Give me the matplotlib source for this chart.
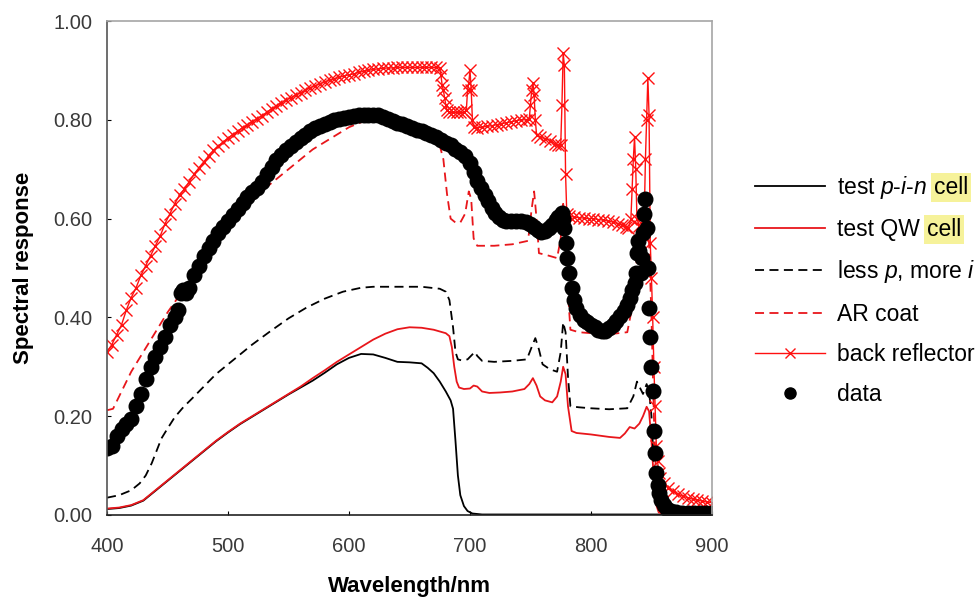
import matplotlib
matplotlib.use("Agg")
import matplotlib.pyplot as plt
from matplotlib.transforms import IdentityTransform
import numpy as np

plt.rcParams["font.family"] = ["Liberation Sans", "DejaVu Sans"]
plt.rcParams["mathtext.fontset"] = "custom"
plt.rcParams["mathtext.rm"] = "Liberation Sans"
plt.rcParams["mathtext.it"] = "Liberation Sans:italic"

# test p-i-n cell
wl_pin = [400, 410, 420, 430, 440, 450, 460, 470, 480, 490, 500, 510, 520, 530, 540,
          550, 560, 570, 580, 590, 600, 610, 620, 630, 640, 650, 660, 665, 670, 675,
          680, 684, 686, 688, 690, 692, 695, 698, 702, 710, 800, 900]
pin = [0.012, 0.014, 0.019, 0.029, 0.049, 0.069, 0.089, 0.109, 0.129, 0.149, 0.167,
       0.184, 0.199, 0.214, 0.229, 0.244, 0.258, 0.272, 0.288, 0.305, 0.318, 0.326,
       0.325, 0.318, 0.310, 0.309, 0.307, 0.298, 0.287, 0.270, 0.250, 0.232, 0.215,
       0.150, 0.080, 0.040, 0.018, 0.008, 0.003, 0.001, 0.001, 0.001]

# test QW cell
wl_qw = [400, 410, 420, 430, 440, 450, 460, 470, 480, 490, 500, 510, 520, 530, 540,
         550, 560, 570, 580, 590, 600, 610, 620, 630, 640, 650, 660, 670, 680, 683,
         685, 687, 689, 691, 695, 700, 703, 706, 710, 716, 725, 735, 745, 749, 752,
         755, 758, 762, 768, 772, 775, 777, 779, 781, 784, 788, 800, 815, 824, 828,
         832, 836, 840, 843, 846, 848, 850, 852, 854, 856, 860, 900]
qw = [0.013, 0.015, 0.020, 0.030, 0.050, 0.070, 0.090, 0.110, 0.130, 0.150, 0.168,
      0.185, 0.200, 0.215, 0.230, 0.245, 0.260, 0.277, 0.293, 0.310, 0.325, 0.340,
      0.355, 0.367, 0.376, 0.380, 0.379, 0.375, 0.368, 0.362, 0.340, 0.300, 0.270,
      0.258, 0.255, 0.256, 0.262, 0.260, 0.250, 0.247, 0.248, 0.250, 0.255, 0.265,
      0.277, 0.262, 0.240, 0.232, 0.228, 0.240, 0.270, 0.300, 0.285, 0.220, 0.170,
      0.166, 0.163, 0.158, 0.156, 0.165, 0.178, 0.175, 0.185, 0.200, 0.219, 0.210,
      0.150, 0.070, 0.020, 0.005, 0.003, 0.002]

# less p, more i
wl_lessp = [400, 410, 420, 427, 432, 437, 441, 445, 450, 456, 463, 470, 480, 490, 500,
            510, 520, 535, 550, 565, 580, 595, 610, 620, 640, 660, 675, 680, 683, 686,
            688, 690, 693, 698, 702, 704, 706, 710, 720, 735, 747, 751, 754, 757, 760,
            766, 772, 775, 777, 779, 781, 783, 790, 800, 815, 830, 835, 838, 840, 843,
            846, 848, 850, 852, 854, 856, 860, 900]
lessp = [0.035, 0.040, 0.050, 0.064, 0.080, 0.105, 0.130, 0.155, 0.175, 0.198, 0.218,
         0.235, 0.260, 0.285, 0.305, 0.325, 0.345, 0.372, 0.398, 0.420, 0.438, 0.452,
         0.460, 0.462, 0.462, 0.462, 0.458, 0.452, 0.435, 0.380, 0.330, 0.315, 0.313,
         0.315, 0.325, 0.330, 0.322, 0.312, 0.310, 0.312, 0.315, 0.340, 0.358, 0.335,
         0.305, 0.295, 0.290, 0.330, 0.390, 0.370, 0.280, 0.220, 0.218, 0.216, 0.214,
         0.216, 0.240, 0.270, 0.260, 0.245, 0.265, 0.250, 0.200, 0.100, 0.040, 0.010,
         0.003, 0.002]

# AR coat
wl_ar = [400, 405, 410, 420, 430, 440, 450, 460, 470, 480, 490, 500, 510, 520, 530,
         540, 550, 560, 570, 580, 590, 600, 610, 620, 630, 640, 650, 660, 670, 675,
         678, 681, 684, 688, 692, 696, 699, 701, 703, 706, 720, 735, 748, 751, 753,
         755, 757, 765, 772, 775, 777, 779, 781, 783, 790, 800, 815, 830, 834, 837,
         840, 842, 844, 846, 848, 850, 852, 854, 856, 860, 880, 900]
ar = [0.212, 0.215, 0.240, 0.290, 0.330, 0.370, 0.410, 0.445, 0.480, 0.515, 0.550,
      0.580, 0.610, 0.635, 0.660, 0.680, 0.700, 0.720, 0.740, 0.755, 0.770, 0.785,
      0.795, 0.800, 0.800, 0.795, 0.785, 0.775, 0.760, 0.748, 0.720, 0.650, 0.600,
      0.592, 0.592, 0.610, 0.655, 0.640, 0.560, 0.545, 0.545, 0.548, 0.555, 0.620,
      0.655, 0.600, 0.530, 0.525, 0.520, 0.560, 0.630, 0.600, 0.450, 0.375, 0.370,
      0.368, 0.366, 0.370, 0.420, 0.500, 0.550, 0.500, 0.560, 0.600, 0.550, 0.400,
      0.200, 0.060, 0.020, 0.012, 0.008, 0.006]

# back reflector
wl_br = [400, 404, 408, 412, 416, 420, 424, 428, 432, 436, 440, 444, 448, 452, 456,
         460, 464, 468, 472, 476, 480, 484, 488, 492, 496, 500, 504, 508, 512, 516,
         520, 524, 528, 532, 536, 540, 544, 548, 552, 556, 560, 564, 568, 572, 576,
         580, 584, 588, 592, 596, 600, 604, 608, 612, 616, 620, 624, 628, 632, 636,
         640, 644, 648, 652, 656, 660, 664, 668, 672, 675, 676, 677, 678, 679, 680,
         681, 683, 686, 689, 692, 695, 697, 698, 699, 700, 701, 702, 703, 706, 710,
         714, 718, 722, 726, 730, 734, 738, 742, 746, 749, 750, 751, 752, 753, 754,
         755, 758, 762, 766, 770, 773, 775, 776, 777, 778, 779, 780, 782, 786, 790,
         794, 798, 802, 806, 810, 814, 818, 822, 826, 829, 831, 833, 834, 835, 836,
         837, 838, 840, 842, 844, 845, 846, 847, 848, 849, 850, 851, 852, 853, 854,
         855, 856, 857, 860, 864, 868, 872, 876, 880, 884, 888, 892, 896, 900]
br = [0.330, 0.345, 0.365, 0.385, 0.415, 0.440, 0.460, 0.485, 0.505, 0.525, 0.545,
      0.565, 0.590, 0.610, 0.630, 0.648, 0.660, 0.675, 0.690, 0.703, 0.715, 0.727,
      0.738, 0.747, 0.755, 0.763, 0.770, 0.777, 0.784, 0.790, 0.796, 0.802, 0.808,
      0.815, 0.822, 0.828, 0.834, 0.840, 0.845, 0.850, 0.855, 0.860, 0.865, 0.869,
      0.873, 0.877, 0.880, 0.883, 0.886, 0.889, 0.891, 0.893, 0.896, 0.898, 0.900,
      0.902, 0.903, 0.904, 0.905, 0.905, 0.906, 0.906, 0.906, 0.906, 0.906, 0.906,
      0.906, 0.906, 0.906, 0.905, 0.890, 0.870, 0.860, 0.845, 0.830, 0.820, 0.815,
      0.815, 0.815, 0.815, 0.815, 0.820, 0.860, 0.875, 0.900, 0.860, 0.800, 0.785,
      0.784, 0.785, 0.787, 0.788, 0.790, 0.792, 0.794, 0.796, 0.798, 0.800, 0.800,
      0.802, 0.830, 0.860, 0.875, 0.850, 0.800, 0.770, 0.765, 0.762, 0.758, 0.752,
      0.748, 0.750, 0.830, 0.935, 0.910, 0.690, 0.610, 0.605, 0.603, 0.602, 0.601,
      0.600, 0.600, 0.598, 0.597, 0.595, 0.593, 0.590, 0.587, 0.583, 0.580, 0.600,
      0.660, 0.720, 0.765, 0.700, 0.600, 0.585, 0.580, 0.600, 0.720, 0.800, 0.885,
      0.810, 0.550, 0.480, 0.400, 0.300, 0.220, 0.140, 0.110, 0.085, 0.075, 0.065,
      0.055, 0.048, 0.042, 0.038, 0.035, 0.032, 0.030, 0.028, 0.026, 0.025]

# measured points
wl_data = [400, 404, 408, 412, 416, 420, 424, 428, 432, 436, 440, 444, 448, 452, 456,
           459, 461, 463, 465, 468, 472, 476, 480, 484, 488, 492, 496, 500, 504, 508,
           512, 516, 520, 524, 528, 532, 536, 540, 544, 548, 552, 556, 560, 564, 568,
           572, 576, 580, 584, 588, 592, 596, 600, 604, 608, 612, 616, 620, 624, 628,
           632, 636, 640, 644, 648, 652, 656, 660, 664, 668, 672, 676, 680, 684, 688,
           692, 696, 700, 703, 706, 709, 712, 715, 718, 721, 724, 727, 730, 734, 738,
           742, 746, 750, 753, 756, 759, 762, 765, 768, 771, 773, 775, 776, 777, 778,
           779, 780, 782, 784, 786, 788, 791, 794, 797, 800, 803, 806, 809, 812, 815,
           818, 821, 824, 827, 830, 832, 834, 836, 837, 838, 839, 840, 841, 842, 843,
           844, 845, 846, 847, 848, 849, 850, 851, 852, 853, 854, 855, 856, 858, 860,
           863, 866, 870, 875, 880, 885, 890, 895, 900]
data = [0.135, 0.140, 0.160, 0.175, 0.185, 0.195, 0.220, 0.245, 0.275, 0.300, 0.320,
        0.340, 0.360, 0.385, 0.400, 0.415, 0.450, 0.455, 0.450, 0.460, 0.485, 0.505,
        0.525, 0.540, 0.555, 0.570, 0.583, 0.595, 0.607, 0.620, 0.632, 0.643, 0.653,
        0.662, 0.675, 0.690, 0.705, 0.718, 0.728, 0.738, 0.747, 0.755, 0.763, 0.770,
        0.777, 0.783, 0.788, 0.792, 0.796, 0.799, 0.802, 0.804, 0.806, 0.808, 0.809,
        0.810, 0.810, 0.810, 0.809, 0.806, 0.802, 0.798, 0.794, 0.791, 0.787, 0.784,
        0.780, 0.777, 0.773, 0.769, 0.765, 0.760, 0.753, 0.748, 0.740, 0.735, 0.727,
        0.712, 0.695, 0.676, 0.662, 0.648, 0.635, 0.622, 0.612, 0.603, 0.598, 0.596,
        0.595, 0.596, 0.596, 0.594, 0.590, 0.582, 0.577, 0.573, 0.575, 0.580, 0.588,
        0.597, 0.603, 0.608, 0.612, 0.600, 0.580, 0.550, 0.520, 0.490, 0.460, 0.435,
        0.420, 0.405, 0.395, 0.390, 0.385, 0.380, 0.375, 0.372, 0.373, 0.378, 0.385,
        0.393, 0.402, 0.412, 0.425, 0.440, 0.455, 0.470, 0.490, 0.530, 0.555, 0.535,
        0.490, 0.520, 0.570, 0.610, 0.640, 0.580, 0.500, 0.420, 0.360, 0.300, 0.250,
        0.170, 0.125, 0.085, 0.060, 0.045, 0.030, 0.020, 0.013, 0.009, 0.007, 0.005,
        0.005, 0.004, 0.004, 0.004, 0.004]

x_ticks = [400, 500, 600, 700, 800, 900]
y_ticks = [0.0, 0.2, 0.4, 0.6, 0.8, 1.0]

red = "#e8161b"
leg_size = 16.5

fig = plt.figure(figsize=(9.8, 5.97), dpi=100)
ax = fig.add_axes([0.1092, 0.1374, 0.6173, 0.8274])

ax.plot(wl_pin, pin, color="black", lw=1.3, label="test $p$-$i$-$n$")
ax.plot(wl_qw, qw, color=red, lw=1.3, label="test QW")
ax.plot(wl_lessp, lessp, color="black", lw=1.3, dashes=(5, 3),
        label="less $p$, more $i$")
ax.plot(wl_ar, ar, color=red, lw=1.3, dashes=(5, 3), label="AR coat")
ax.plot(wl_br, br, color="#ff1010", lw=1.0, marker="x", ms=8, mew=1.0,
        label="back reflector")
ax.plot(wl_data, data, ls="none", marker="o", ms=10.5, color="black", label="data")

ax.set_xlim(400, 900)
ax.set_ylim(0, 1)
ax.set_xticks(x_ticks)
ax.set_yticks(y_ticks)
ax.set_yticklabels([f"{v:.2f}" for v in y_ticks])
ax.tick_params(direction="in", length=3, width=0.8, labelsize=14.5,
               labelcolor="#3a3a3a")
ax.tick_params(axis="x", pad=16)
ax.tick_params(axis="y", pad=10.5)

ax.spines["left"].set_color("#555555")
ax.spines["bottom"].set_color("#222222")
ax.spines["top"].set_color("#a6a6a6")
ax.spines["right"].set_color("#a6a6a6")
for s in ax.spines.values():
    s.set_linewidth(1.2)

ax.set_xlabel("Wavelength/nm", fontsize=16, fontweight="bold", labelpad=14)
ax.set_ylabel("Spectral response", fontsize=16, fontweight="bold", labelpad=14)

leg = ax.legend(loc="center left", bbox_to_anchor=(755 / 980, 1 - 290 / 597),
                bbox_transform=fig.transFigure, frameon=False, fontsize=leg_size,
                handlelength=3.05, handletextpad=0.52, labelspacing=0.75,
                borderpad=0, borderaxespad=0, numpoints=1)
leg.legend_handles[4].set_markersize(7)
leg.legend_handles[5].set_markersize(8)

# highlighted "cell" after the first two legend labels
fig.canvas.draw()
for t in leg.get_texts()[:2]:
    bb = t.get_window_extent()
    _, y_base = t.get_transform().transform(t.get_position())
    fig.text(bb.x1 + 7, y_base, "cell", transform=IdentityTransform(),
             fontsize=leg_size, va="baseline", ha="left",
             bbox=dict(boxstyle="square,pad=0.12", fc="#f6f29a", ec="none"))

fig.savefig("out.png", dpi=100)
